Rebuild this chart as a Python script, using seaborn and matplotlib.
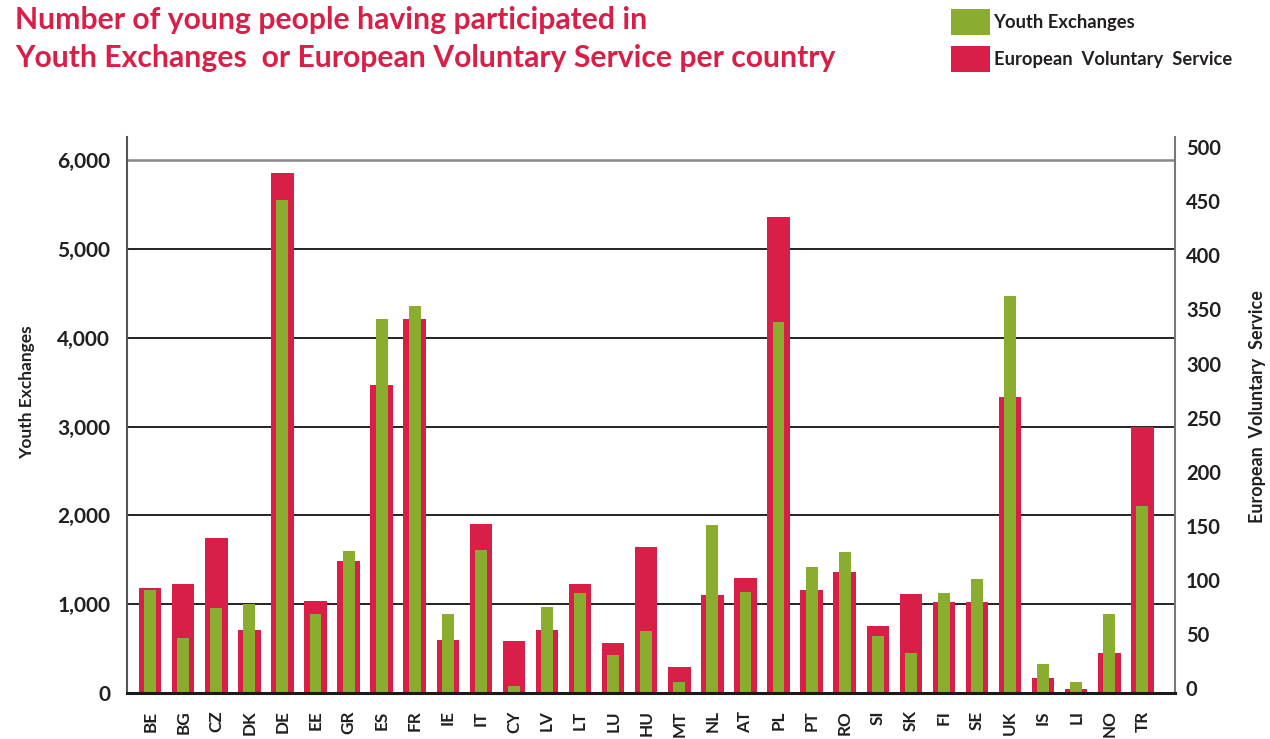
# Youth Exchanges vs European Voluntary Service per country

import numpy as np
import pandas as pd
import matplotlib
matplotlib.use('Agg')
import matplotlib.pyplot as plt
import matplotlib.transforms as mtransforms
from matplotlib.patches import Patch
from matplotlib.ticker import FuncFormatter
import seaborn as sns


sns.set_style('white')
plt.rcParams['font.family'] = ['Lato', 'DejaVu Sans']

countries = ['BE', 'BG', 'CZ', 'DK', 'DE', 'EE', 'GR', 'ES', 'FR', 'IE', 'IT',
             'CY', 'LV', 'LT', 'LU', 'HU', 'MT', 'NL', 'AT', 'PL', 'PT', 'RO',
             'SI', 'SK', 'FI', 'SE', 'UK', 'IS', 'LI', 'NO', 'TR']
youth_exchanges = [1165, 625, 960, 1005, 5546, 895, 1602, 4209, 4356, 895, 1614,
                   74, 973, 1128, 433, 703, 119, 1892, 1140, 4177, 1422, 1590,
                   646, 454, 1128, 1287, 4467, 331, 119, 895, 2109]
evs = [97, 101, 143, 58, 481, 85, 122, 285, 346, 49, 156,
       48, 58, 101, 46, 135, 24, 91, 106, 440, 95, 112,
       62, 92, 84, 84, 274, 14, 4, 37, 246]

left_ticks = [0, 1000, 2000, 3000, 4000, 5000, 6000]
right_ticks = [0, 50, 100, 150, 200, 250, 300, 350, 400, 450, 500]

RED = '#d91f48'
GREEN = '#8aac2f'
TXT = '#231f20'

df = pd.DataFrame({'country': countries, 'ye': youth_exchanges, 'evs': evs})

fig = plt.figure(figsize=(12.7, 7.39), dpi=100)
ax = fig.add_axes([0.1, 0.0622, 0.825, 0.7524])
ax2 = ax.twinx()

# EVS (wide red) on the twin axis, drawn underneath
sns.barplot(data=df, x='country', y='evs', ax=ax2, color=RED, width=0.68,
            saturation=1, linewidth=0, edgecolor='none')
# Youth exchanges (narrow green) on top
sns.barplot(data=df, x='country', y='ye', ax=ax, color=GREEN, width=0.36,
            saturation=1, linewidth=0, edgecolor='none')

ax.set_zorder(ax2.get_zorder() + 1)
ax.patch.set_visible(False)

ax.set_ylim(0, 6259)
ax2.set_ylim(0, 514)
ax.set_xlim(-0.70, 30.98)

# gridlines of the left scale, drawn behind the bars
trans = mtransforms.blended_transform_factory(ax2.transAxes, ax.transData)
for t in left_ticks[1:]:
    ax2.plot([0, 1], [t, t], transform=trans, color='#888888' if t == 6000 else '#111111',
             lw=1.8 if t == 6000 else 1.3, zorder=0.5)

ax.set_yticks(left_ticks)
ax.yaxis.set_major_formatter(FuncFormatter(lambda v, p: f'{int(v):,}'))
ax2.set_yticks(right_ticks)
ax.tick_params(axis='y', length=0, pad=12, labelsize=15, labelcolor=TXT)
ax2.tick_params(axis='y', length=0, pad=8, labelsize=14.5, labelcolor=TXT)
ax.tick_params(axis='x', length=0, pad=12.5, labelsize=12.3, labelcolor=TXT, rotation=90)
for lab in ax.get_yticklabels() + ax2.get_yticklabels() + ax.get_xticklabels():
    lab.set_fontweight('bold')
for lab in ax.get_xticklabels():
    lab.set_va('top')
# right-hand labels sit a little above their value in the original
shift = mtransforms.ScaledTranslation(0, 5 / 100, fig.dpi_scale_trans)
for lab in ax2.get_yticklabels():
    lab.set_transform(lab.get_transform() + shift)

ax.set_xlabel('')
ax.set_ylabel('')
ax2.set_ylabel('')
ax2.set_xlabel('')

ax.spines['top'].set_visible(False)
for s in ax2.spines.values():
    s.set_visible(False)
ax.spines['left'].set_color('#555555')
ax.spines['left'].set_linewidth(1.5)
ax.spines['right'].set_color('#777777')
ax.spines['right'].set_linewidth(1.5)
ax.spines['bottom'].set_color('#1a1a1a')
ax.spines['bottom'].set_linewidth(2.2)

# titles and axis labels
fig.text(15 / 1270, 1 - 20 / 739, 'Number of young people having participated in',
         color=RED, fontsize=21.7, fontweight='bold', va='center', ha='left')
fig.text(15 / 1270, 1 - 58 / 739, 'Youth Exchanges  or European Voluntary Service per country',
         color=RED, fontsize=21.7, fontweight='bold', va='center', ha='left')
fig.text(27 / 1270, 1 - 392 / 739, 'Youth Exchanges', rotation=90, fontsize=12.5,
         fontweight='bold', color=TXT, ha='center', va='center')
fig.text(1258 / 1270, 1 - 407 / 739, 'European  Voluntary  Service', rotation=90, fontsize=13,
         fontweight='bold', color=TXT, ha='center', va='center')

handles = [Patch(facecolor=GREEN, edgecolor='none'), Patch(facecolor=RED, edgecolor='none')]
fig.legend(handles, ['Youth Exchanges', 'European  Voluntary  Service'],
           loc='upper left', bbox_to_anchor=(951 / 1270, 1 - 9 / 739), frameon=False,
           borderpad=0, borderaxespad=0, handlelength=2.15, handleheight=1.8,
           handletextpad=0.17, labelspacing=0.6,
           prop={'weight': 'bold', 'size': 13.2}, labelcolor=TXT)

fig.savefig('out.png', dpi=100)
